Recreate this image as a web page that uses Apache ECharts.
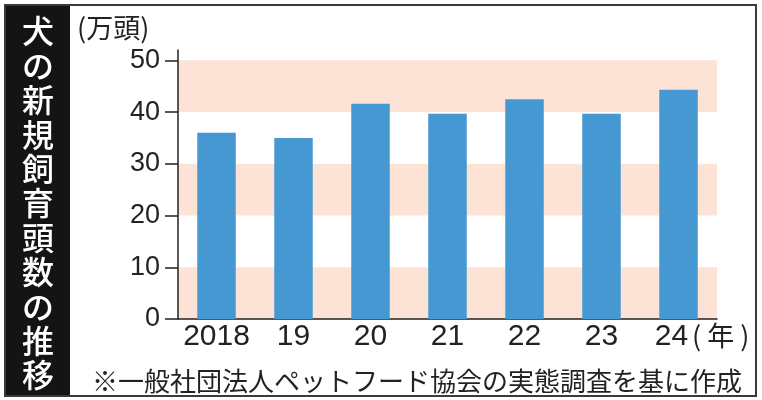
<!DOCTYPE html>
<html>
<head>
<meta charset="utf-8">
<script src="https://cdn.jsdelivr.net/npm/echarts@6/dist/echarts.min.js"></script>
<style>
html,body{margin:0;padding:0;background:#fff;}
#chart{width:762px;height:400px;}
</style>
</head>
<body>
<div id="chart"></div>
<script>
var categories = ['2018', '19', '20', '21', '22', '23', '24'];
var values = [36, 35, 41.6, 39.7, 42.5, 39.7, 44.3];
var yTicks = [0, 10, 20, 30, 40, 50];
var titleText = '犬の新規飼育頭数の推移';
var unitText = '(万頭)';
var yearText = '( 年 )';
var sourceText = '※一般社団法人ペットフード協会の実態調査を基に作成';

var FONT = '"Noto Sans CJK JP", "Liberation Sans", sans-serif';
var NUMFONT = '"Liberation Sans", Arial, sans-serif';
var chart = echarts.init(document.getElementById('chart'), null, {renderer: 'canvas'});

chart.setOption({
  animation: false,
  backgroundColor: '#ffffff',
  grid: {left: 178, right: 45, top: 50, bottom: 81, containLabel: false},
  xAxis: {
    type: 'category',
    data: categories,
    axisLine: {show: true, lineStyle: {color: '#222', width: 1.5}},
    axisTick: {show: false},
    axisLabel: {
      color: '#222', fontSize: 30, fontFamily: NUMFONT, margin: 3, interval: 0, hideOverlap: false,
      formatter: function (v, i) { return i === categories.length - 1 ? '{last|' + v + '}' : v; },
      rich: {last: {color: '#222', fontSize: 30, fontFamily: NUMFONT, padding: [0, 14, 0, 0]}}
    }
  },
  yAxis: {
    type: 'value',
    min: 0,
    max: 52,
    interval: 10,
    axisLine: {show: true, lineStyle: {color: '#222', width: 1.5}},
    axisTick: {show: true, length: 13, customValues: yTicks, lineStyle: {color: '#222', width: 1.5}},
    axisLabel: {
      color: '#222', fontSize: 27, fontFamily: NUMFONT, margin: 18,
      customValues: yTicks
    },
    splitLine: {show: false},
    splitArea: {show: true, areaStyle: {color: ['#fde3d6', 'rgba(255,255,255,0)']}}
  },
  series: [{
    type: 'bar',
    data: values,
    barWidth: '50%',
    itemStyle: {color: '#4698d2'}
  }],
  graphic: [
    {type: 'rect', shape: {x: 5, y: 5, width: 751, height: 391}, style: {fill: 'none', stroke: '#3a3a3a', lineWidth: 2}, z: 10},
    {type: 'rect', shape: {x: 6, y: 6, width: 64, height: 389}, style: {fill: '#141414'}, z: 5},
    {type: 'text', x: 38, y: 14, z: 6, style: {
      text: titleText.split('').join('\n'), fill: '#ffffff', font: '500 32px ' + FONT,
      lineHeight: 34.4, align: 'center', verticalAlign: 'top'
    }},
    {type: 'text', x: 77, y: 28, style: {text: unitText, fill: '#222', font: '27px ' + FONT, align: 'left', verticalAlign: 'middle'}},
    {type: 'text', x: 692, y: 336, style: {text: yearText, fill: '#222', font: '27px ' + FONT, align: 'left', verticalAlign: 'middle'}},
    {type: 'text', x: 92, y: 381, style: {text: sourceText, fill: '#222', font: '26px ' + FONT, align: 'left', verticalAlign: 'middle'}}
  ]
});
</script>
</body>
</html>
